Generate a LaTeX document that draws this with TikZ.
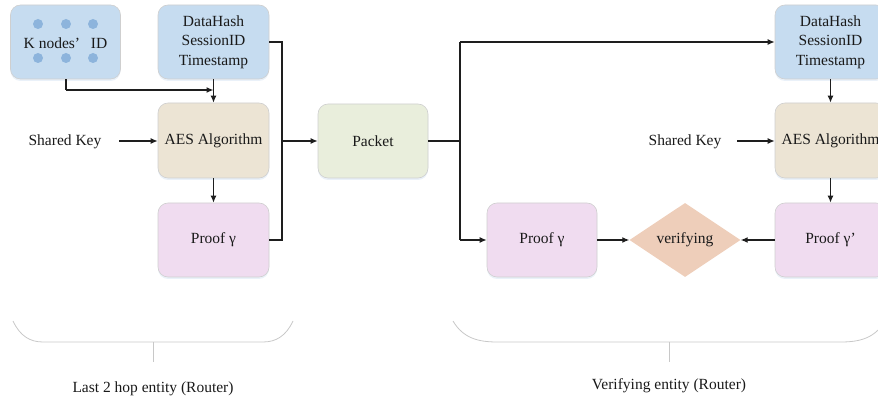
\documentclass[tikz,border=0pt]{standalone}
\usepackage{fontspec}
\setmainfont{Liberation Serif}
\usetikzlibrary{arrows.meta,shapes.geometric,shadows}
\definecolor{cblue}{HTML}{C6DCF0}
\definecolor{cdot}{HTML}{8DB4DC}
\definecolor{caes}{HTML}{ECE4D4}
\definecolor{cpack}{HTML}{E9EEDC}
\definecolor{cproof}{HTML}{F0DCF0}
\definecolor{cdiam}{HTML}{EECEBA}
\definecolor{cedge}{HTML}{CFCFCF}
\definecolor{cline}{HTML}{1E1E1E}
\definecolor{cbrace}{HTML}{C8C8C8}
\begin{document}
\begin{tikzpicture}[x=1pt,y=-1pt,
  every node/.style={font=\fontsize{15.5}{19.5}\selectfont, text=black!90},
  boxbase/.style={rectangle, rounded corners=10pt, draw=cedge, line width=0.6pt,
    minimum width=111pt, minimum height=74pt, inner sep=0pt, align=center,
    drop shadow={opacity=0.18, shadow xshift=0pt, shadow yshift=-2pt, fill=cdot}},
  bluebox/.style={boxbase, fill=cblue},
  aesbox/.style={boxbase, fill=caes},
  packbox/.style={boxbase, fill=cpack},
  proofbox/.style={boxbase, fill=cproof},
  diambox/.style={diamond, fill=cdiam, draw=none, aspect=1.5, inner sep=0pt,
    minimum width=111pt, minimum height=74pt},
  dotnode/.style={circle, fill=cdot, draw=none, minimum size=10pt, inner sep=0pt},
  conn/.style={draw=cline, line width=1.3pt},
  arr/.style={conn, -{Latex[length=7pt,width=6pt]}},
  brace/.style={draw=cbrace, line width=0.8pt},
  plain/.style={inner sep=0pt}
]
\clip (0,0) rectangle (878,403);
\useasboundingbox (0,0) rectangle (878,403);

% left entity
\node[bluebox, minimum width=110pt] (kid) at (65.5,42) {};
\foreach \i/\x in {1/38,2/66,3/93}{
  \node[dotnode] (dt\i) at (\x,24) {};
  \node[dotnode] (db\i) at (\x,58) {};
}
\node[plain] (kidtxt) at (65.5,43) {K nodes’\hspace{0.7em}ID};
\node[bluebox] (dh1) at (213.5,42) {DataHash\\SessionID\\Timestamp};
\node[aesbox, minimum height=75pt] (aes1) at (213.5,140.5) {AES Algorithm};
\node[proofbox] (pr1) at (213.5,240) {Proof γ};
\node[plain] (sk1) at (65,142) {Shared Key};
\coordinate (sk1e) at (119,141);

% packet
\node[packbox, minimum width=110pt] (pk) at (373,141) {Packet};

% right entity
\node[bluebox] (dh2) at (830.5,42) {DataHash\\SessionID\\Timestamp};
\node[aesbox, minimum height=75pt] (aes2) at (830.5,140.5) {AES Algorithm};
\node[proofbox] (pr3) at (830.5,240) {Proof γ’};
\node[proofbox, minimum width=110pt] (pr2) at (542,240) {Proof γ};
\node[diambox] (vf) at (685,240) {verifying};
\node[plain] (sk2) at (685,142) {Shared Key};
\coordinate (sk2e) at (737,141);

% connectors left
\coordinate (kb) at (66,90);
\coordinate (km) at (213.5,90);
\draw[conn] (kid.south -| kb) -- (kb);
\draw[arr] (kb) -- (km);
\draw[arr] (dh1) -- (aes1);
\draw[arr] (aes1) -- (pr1);
\draw[arr] (sk1e) -- (aes1.west |- sk1e);
\coordinate (j1t) at (282,42);
\coordinate (j1b) at (282,240);
\coordinate (j1) at (282,141);
\draw[conn] (dh1.east) -- (j1t) -- (j1b) -- (pr1.east);
\draw[arr] (j1) -- (pk.west);

% connectors right
\coordinate (j2) at (460,141);
\coordinate (j2t) at (460,42);
\coordinate (j2b) at (460,240);
\draw[conn] (pk.east) -- (j2);
\draw[conn] (j2t) -- (j2b);
\draw[arr] (j2t) -- (dh2.west);
\draw[arr] (j2b) -- (pr2.west);
\draw[arr] (pr2.east) -- (vf.west);
\draw[arr] (pr3.west) -- (vf.east);
\draw[arr] (dh2) -- (aes2);
\draw[arr] (aes2) -- (pr3);
\draw[arr] (sk2e) -- (aes2.west |- sk2e);

% entity braces
\draw[brace] (13,321) .. controls (20,336) and (30,342) .. (43,342) -- (263,342)
  .. controls (276,342) and (286,336) .. (293,321);
\coordinate (t1a) at (153,342);
\coordinate (t1b) at (153,362);
\draw[brace] (t1a) -- (t1b);
\node[plain] (lab1) at (153,389) {Last 2 hop entity (Router)};

\draw[brace] (453,321) .. controls (463,338) and (478,342) .. (497,342) -- (841,342)
  .. controls (860,342) and (875,338) .. (885,321);
\coordinate (t2a) at (669,342);
\coordinate (t2b) at (669,362);
\draw[brace] (t2a) -- (t2b);
\node[plain] (lab2) at (669,386) {Verifying entity (Router)};
\end{tikzpicture}
\end{document}
